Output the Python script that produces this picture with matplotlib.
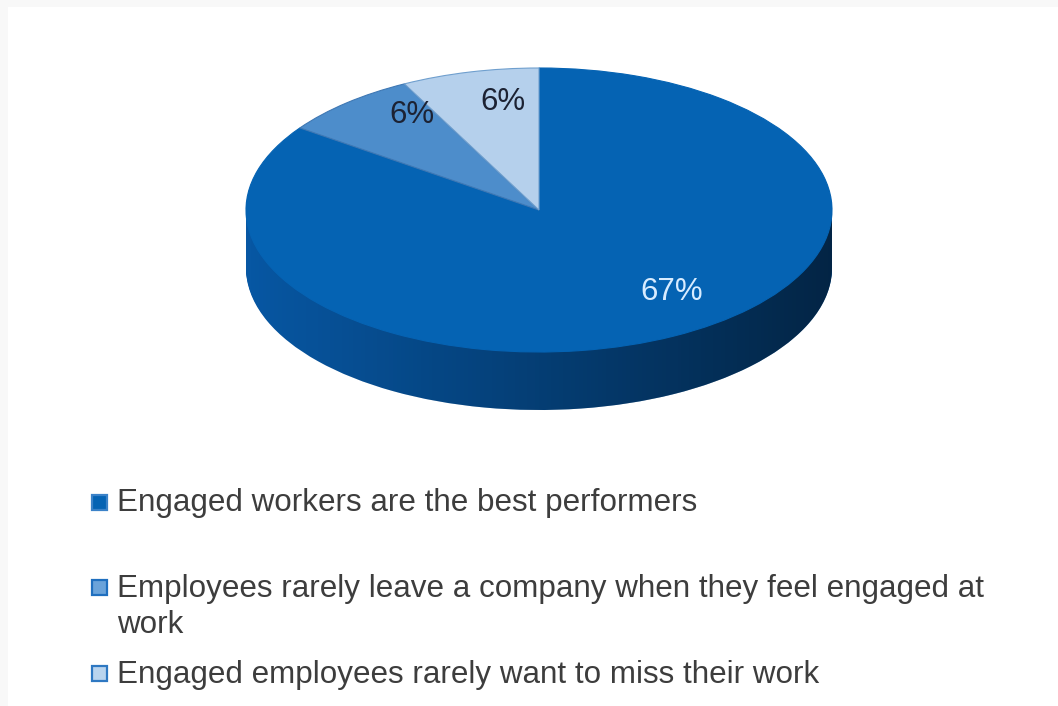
import numpy as np
import matplotlib
matplotlib.use("Agg")
import matplotlib.pyplot as plt
from matplotlib.patches import Rectangle, Polygon

# Survey results
categories = [
    "Engaged workers are the best performers",
    "Employees rarely leave a company when they feel engaged at\nwork",
    "Engaged employees rarely want to miss their work",
]
values = [67, 6, 6]
value_labels = ["67%", "6%", "6%"]

top_colors = ["#0563b3", "#4d8dcb", "#b5d0ec"]
side_colors = ["#0757a3", "#2f6fae", "#8fb3d8"]
label_colors = ["#d8ecff", "#1c2233", "#1c2233"]
# label positions in pie data units (x, y)
label_xy = [(0.454, -0.577), (-0.433, 0.67), (-0.123, 0.76)]

W, H = 1058, 706
fig = plt.figure(figsize=(W / 100, H / 100), dpi=100)
fig.patch.set_facecolor("white")

# faint frame along top and left edges
fig.add_artist(Rectangle((0, 1 - 7 / H), 1, 7 / H, transform=fig.transFigure,
                         facecolor="#f8f8f8", edgecolor="none", zorder=0))
fig.add_artist(Rectangle((0, 0), 8 / W, 1, transform=fig.transFigure,
                         facecolor="#f8f8f8", edgecolor="none", zorder=0))

# pie axes: top ellipse spans 586 x 284 px, side depth 58 px
rx_px, ry_px, depth_px = 293.0, 142.0, 58.0
d = depth_px / ry_px
left, right, top, bottom = 246, 832, 68, 352 + depth_px
ax = fig.add_axes([left / W, (H - bottom) / H, (right - left) / W, (bottom - top) / H])

# side wall: stacked layers of the pie pushed downwards
n_layers = 50
for k in range(n_layers):
    off = -d * (1 - k / n_layers)
    wedges, _ = ax.pie(values, colors=side_colors, startangle=90, counterclock=False,
                       center=(0, off), radius=1.0, wedgeprops=dict(linewidth=0))
    for w in wedges:
        w.set_zorder(1)

# shading of the side wall (lighter left, darker right)
nx = 400
alpha = np.linspace(0.0, 0.58, nx)
shade = np.zeros((2, nx, 4))
shade[..., 3] = alpha[None, :]
theta = np.linspace(np.pi, 2 * np.pi, 120)
poly = np.vstack([
    np.column_stack([np.cos(theta), np.sin(theta) - d]),
    [[1.0, 0.0]],
    np.column_stack([np.cos(theta[::-1]), 0 * theta]),
    [[-1.0, 0.0]],
])
clip = Polygon(poly, closed=True, transform=ax.transData, facecolor="none", edgecolor="none")
ax.add_patch(clip)
im = ax.imshow(shade, extent=(-1, 1, -1 - d, 0), aspect="auto", zorder=2,
               interpolation="bilinear")
im.set_clip_path(clip)

# top face
wedges, _ = ax.pie(values, colors=top_colors, startangle=90, counterclock=False,
                   center=(0, 0), radius=1.0, wedgeprops=dict(linewidth=0))
edge_cols = ["#0563b3", "#3f78b4", "#6f9fce"]
for w, ec in zip(wedges, edge_cols):
    w.set_zorder(3)
    w.set_edgecolor(ec)
    w.set_linewidth(0.8)

for (x, y), txt, c in zip(label_xy, value_labels, label_colors):
    ax.text(x, y, txt, ha="center", va="center", fontsize=22.5, color=c,
            family="Liberation Sans", zorder=5)

ax.set_aspect("auto")
ax.set_xlim(-1, 1)
ax.set_ylim(-1 - d, 1)
ax.set_axis_off()

# legend
legend_face = ["#0563b3", "#6aa3da", "#b9d4ee"]
legend_edge = ["#3b82c8", "#1f6fbf", "#2e78c2"]
first_baselines = [511, 596, 683]
marker_cy = [502, 587, 673]
line_px = 37
for lab, fc, ec, yb, yc in zip(categories, legend_face, legend_edge, first_baselines, marker_cy):
    s = 15
    fig.add_artist(Rectangle((92 / W, (H - yc - s / 2) / H), s / W, s / H,
                             transform=fig.transFigure, facecolor=fc, edgecolor=ec,
                             linewidth=1.6, zorder=3))
    n_lines = lab.count("\n") + 1
    y_last = yb + line_px * (n_lines - 1)
    fig.text(117 / W, (H - y_last) / H, lab, ha="left", va="baseline", fontsize=22.6,
             color="#3d3d3d", family="Liberation Sans", linespacing=1.28)

fig.savefig("out.png", dpi=100, facecolor="white")
